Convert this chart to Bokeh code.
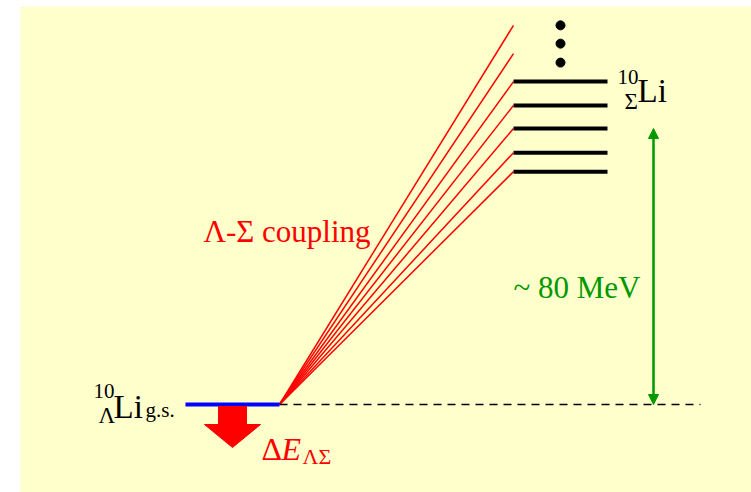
from bokeh.plotting import figure
from bokeh.models import Range1d, Arrow, NormalHead
from bokeh.core.properties import value
from bokeh.embed import file_html
from bokeh.resources import INLINE

# ---- data (energies in MeV relative to the Lambda ground state) ----
sigma_levels = [93.6, 86.7, 80.0, 73.0, 67.5]      # 10_Sigma Li levels drawn
higher_states = [109.9, 101.7]                     # coupled states above (lines only)
dots_E = [109.9, 104.6, 99.1]                      # "..." continuation
gs_E = 0.0                                         # Lambda ground state
gap_E = 80.0                                       # ~80 MeV gap

FONT = value("Liberation Serif")
YEL = "#FFFFCC"
RED = "#FF0000"
GREEN = "#009900"

# schematic horizontal layout (page-like units)
X_LO, X_HI = 20, 751
gs_x0, gs_x1 = 185, 279
lv_x0, lv_x1 = 513, 607
dots_x = 560
arrow_x = 653
dash_x1 = 700

PX_PER_MEV = 3.45
GS_PX = 404
def E(px):
    return (GS_PX - px) / PX_PER_MEV

p = figure(width=751, height=492,
           x_range=Range1d(X_LO, X_HI),
           y_range=Range1d(E(492), E(6)),
           output_backend="svg", toolbar_location=None,
           x_axis_location=None, y_axis_location=None,
           min_border_left=20, min_border_right=0,
           min_border_top=6, min_border_bottom=0,
           background_fill_color=YEL, border_fill_color="white",
           outline_line_color=None)
p.grid.visible = False

# coupling lines
targets = higher_states + sigma_levels
p.segment(x0=[gs_x1] * len(targets), y0=[gs_E] * len(targets),
          x1=[lv_x0] * len(targets), y1=targets,
          line_color=RED, line_width=1.5)

# Sigma levels
p.segment(x0=[lv_x0] * len(sigma_levels), y0=sigma_levels,
          x1=[lv_x1] * len(sigma_levels), y1=sigma_levels,
          line_color="black", line_width=4)

# dots
p.scatter(x=[dots_x] * len(dots_E), y=dots_E, size=9, color="black")

# ground state and dashed reference line
p.segment(x0=[gs_x1], y0=[gs_E], x1=[dash_x1], y1=[gs_E],
          line_color="black", line_width=1.5, line_dash="8 6")
p.segment(x0=[gs_x0], y0=[gs_E], x1=[gs_x1], y1=[gs_E],
          line_color="#0000FF", line_width=4)

# green double arrow
p.add_layout(Arrow(x_start=arrow_x, y_start=gs_E, x_end=arrow_x, y_end=gap_E,
                   line_color=GREEN, line_width=2.5,
                   start=NormalHead(size=10, fill_color=GREEN, line_color=GREEN),
                   end=NormalHead(size=10, fill_color=GREEN, line_color=GREEN)))

# red shift arrow
cx = 232
sw, hw = 14, 28
y_top, y_neck, y_tip = E(GS_PX + 2), E(GS_PX + 20), E(GS_PX + 43)
p.patch(x=[cx - sw, cx + sw, cx + sw, cx + hw, cx, cx - hw, cx - sw],
        y=[y_top, y_top, y_neck, y_neck, y_tip, y_neck, y_neck],
        fill_color=RED, line_color=RED)

def txt(x, base_px, s, size, color="black", style="normal"):
    y = E(base_px - 0.3 * size)
    p.text(x=[x], y=[y], text=[s], text_font=FONT, text_font_size=f"{size}px",
           text_color=color, text_font_style=style,
           text_align="left", text_baseline="alphabetic")

txt(203, 240, "\u039b-\u03a3 coupling", 31, RED)
txt(513, 296, "~ 80 MeV", 31, GREEN)

# 10_Sigma Li
txt(617, 83, "10", 21)
txt(624, 108, "\u03a3", 23)
txt(637, 100, "Li", 33)

# 10_Lambda Li g.s.
txt(93, 397, "10", 21)
txt(98, 422, "\u039b", 23)
txt(113, 416, "Li", 33)
txt(145, 416, "g.s.", 21)

# Delta E_{Lambda Sigma}
txt(261, 458, "\u0394", 32, RED)
txt(281, 458, "E", 32, RED, "italic")
txt(302, 463, "\u039b\u03a3", 22, RED)

open("out.html", "w").write(file_html(p, INLINE))
